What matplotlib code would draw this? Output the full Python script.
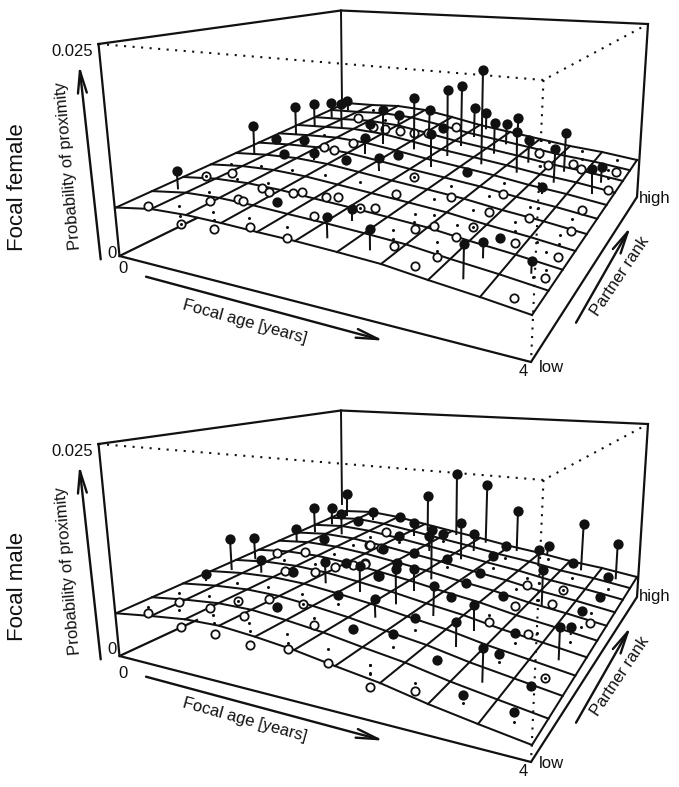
import numpy as np
import matplotlib
matplotlib.use("Agg")
import matplotlib.pyplot as plt

plt.rcParams['font.family'] = ['Liberation Sans', 'DejaVu Sans']

rank_spacing = [0, .157, .292, .413, .522, .621, .71, .79, .865, .934, 1]

female_front_x = [116, 151, 186, 221, 257, 295, 337, 381, 428, 480, 532]
female_front_y = [207.5, 209, 215, 223, 232, 241, 252, 264, 280, 297, 315]
female_back_x = [346, 372, 398, 425, 452, 480, 510, 540, 570, 602, 637]
female_back_y = [103, 105, 106, 110, 117, 125, 132, 139, 146, 152, 160]

female_stem_x = [176.7, 253.3, 295.3, 314, 331.3, 341, 347.3, 314, 365, 378.5, 326.7, 352.3, 369.8, 414.3, 447.7, 462, 483, 474.7,
                 486.3, 494.7, 506.7, 518.3, 517, 529, 555.3, 566, 429.7, 431.3, 399, 382.7, 541.7, 592.3, 601.7, 464, 483.3, 531.7]
female_stem_y = [171, 125.7, 107.3, 103.7, 103.3, 103.7, 101.3, 153, 138.3, 158.3, 217, 209.3, 229, 98.3, 89.7, 86.3, 70, 108,
                 112.7, 122.7, 123.7, 117.7, 131.7, 140, 148.7, 132.7, 110, 134.3, 115.3, 110, 187.3, 169, 166.7, 244, 241.7, 261]
female_base_x = [178, 254.3, 296, 314.7, 331.7, 341.7, 348, 314, 365, 379, 327.3, 352.3, 370, 414, 447.3, 461, 481.3, 474,
                 486, 494, 506, 517.7, 516.7, 528.3, 553.7, 564, 429, 431.3, 398.3, 382.7, 541.7, 592.3, 601, 463.3, 483, 531.3]
female_base_y = [188.3, 153.3, 133.3, 125, 116.7, 126.7, 109.3, 158.5, 152.7, 170, 237.3, 220, 249.3, 148.3, 155, 145, 163.3, 136,
                 128.3, 152.7, 143.3, 131.7, 171.7, 161.7, 181.7, 170.7, 130, 166, 126.7, 142.7, 193, 193.3, 181.7, 278.3, 257.3, 272.7]
female_filled_x = [276.3, 304.3, 283.7, 346, 369.5, 277, 397.7, 443, 466.7, 500]
female_filled_y = [138.7, 140, 153.7, 159.7, 124, 202, 154.7, 127.7, 172.3, 237.7]
female_open_x = [147.7, 206, 232, 210, 180.7, 214, 249.7, 287.3, 237.7, 242.7, 262.3, 269, 293.3, 302.3, 325.7, 337.7, 314, 360,
                 375.3, 324.3, 334.3, 353, 358, 373.3, 385.3, 400, 414, 427.7, 456.3, 539, 547.7, 573.3, 581, 615.7, 607.7, 414.3,
                 396, 450.7, 502.7, 581.7, 488.7, 529, 570.7, 473.3, 433.7, 415, 456, 514.7, 393.7, 437, 415.3, 558.3, 545, 514.3]
female_open_y = [206.3, 176.3, 173, 200.7, 224, 228.7, 226.7, 238.3, 198.7, 201, 188, 192.3, 193.3, 192, 196.7, 197.3, 215.7, 208.3,
                 207.7, 146.7, 150.3, 143.3, 118.3, 127.3, 129.3, 131, 133.3, 133.3, 127.3, 153, 165, 164.3, 169, 172.3, 190, 177,
                 194, 197.3, 193.7, 209.5, 212, 218, 231, 227, 226, 229, 236.7, 243.3, 245.7, 257.3, 266.3, 257.3, 278, 297.7]
female_dot_x = [231.3, 261.3, 292.3, 325.3, 360, 179.3, 213.3, 249, 287, 209, 268.3, 236.7, 373.3, 324, 180, 213.7, 206, 180.7, 360,
                385, 450.7, 434, 489.3, 503.7, 541, 549, 540, 582, 616.7, 581.7, 608.3, 608.3, 530, 537.7, 415, 473.3, 434, 414.3,
                456.7, 393.3, 393.3, 437, 437, 515.3, 515.3, 571.7, 560, 559, 536.7, 546, 546, 533.3, 473.3, 414.3]
female_dot_y = [163.7, 166.3, 170, 175.3, 181.7, 206.3, 211.7, 218.3, 226.7, 192, 182.7, 178.7, 110, 135, 215.7, 220, 176.3, 224, 208.3,
                120, 185.7, 199, 195.7, 183.3, 140, 142.3, 165.7, 150.7, 160, 159.3, 170, 178, 206.7, 208.3, 214, 210, 215, 222.3,
                225, 230, 239, 242.3, 251, 222.3, 230.7, 219.3, 235, 244, 241.7, 252.3, 270, 277.3, 227, 177]

male_front_x = [116, 151, 185, 219, 255, 294, 335, 380, 428, 478, 532]
male_front_y = [613.3, 616, 619.3, 625.7, 636.7, 650, 666, 683, 704, 724, 745]
male_back_x = [346, 372, 398, 425, 452, 480, 510, 540, 570, 602, 637]
male_back_y = [511, 512, 517, 524, 531, 538, 546, 553, 561, 568, 577]

male_stem_x = [230, 254, 296.3, 314, 331.7, 341.3, 347.3, 373.3, 206, 261, 325, 359.7, 374.7, 428, 457, 487.3, 518, 583.7, 617.7,
               548.7, 539, 543, 413.7, 431.7, 429, 461.3, 474.3, 397.3, 395.7, 414.3, 434, 473.7, 456.3, 560, 571, 483.3]
male_stem_y = [538.7, 537.7, 528.7, 508, 508, 514.3, 494, 511.7, 574.3, 560.3, 562.3, 566, 599.3, 496, 473.7, 485, 510.7, 524, 544.3,
               545.7, 549.7, 570, 522.7, 530.3, 536, 522.7, 533.7, 562.7, 569.3, 568.7, 586, 605.3, 621.7, 627, 627.3, 648.3]
male_base_x = [231.7, 255.3, 296.7, 315, 332, 341.7, 347.3, 373.3, 206, 261.3, 325.7, 360, 375.3, 427.7, 456.3, 485.7, 516.7, 581, 615.7,
               547.3, 538.3, 541.7, 413.7, 431.3, 429.3, 461, 473.7, 395.7, 396, 414.3, 433.3, 473.7, 456, 558.7, 570.7, 482.3]
male_base_y = [569, 558.3, 540, 531, 523.3, 533.3, 515, 519.3, 580, 571.7, 582.3, 591, 616.7, 530, 534, 541.7, 550, 569.3, 578.3,
               553, 565, 605, 535, 578.3, 550, 558.3, 550, 569.3, 603.3, 590, 615, 630, 646, 659.3, 634, 681.7]
male_filled_x = [324, 358, 346, 292.7, 378.3, 337.7, 277.3, 353, 400, 443, 505.7, 493.3, 398.7, 382.7, 413.7, 446.7, 379.3, 480.3, 466,
                 450.7, 503, 573.3, 608.3, 600, 582.3, 414.7, 393.3, 515, 499.3, 436.7, 531, 463.3, 513.7]
male_filled_y = [539, 521, 563.3, 572, 576, 595, 607, 629.3, 517.3, 534, 546, 556, 536, 549, 552.7, 559.3, 576, 573.3, 583.3,
                 597.3, 596, 562.7, 576.7, 597, 611, 617.7, 634.3, 633.3, 654.3, 659.7, 685.7, 695.3, 712.3]
male_open_x = [148.3, 179, 210.3, 237.7, 269.3, 243.7, 181, 214.7, 250.3, 287.7, 327.7, 314, 303, 276.7, 305, 284.7, 314.7, 334.7, 353.3,
               365.3, 369.3, 381, 385.7, 369.7, 365, 527, 562.7, 515, 552, 590, 488.7, 528.3, 545, 415.3, 370.3]
male_open_y = [613.3, 602, 607.7, 600.7, 599, 616.3, 626.7, 633.7, 645.3, 649, 662.7, 624.7, 603.7, 552.7, 552, 571.3, 571.7, 567.3, 565.3,
               563.3, 544.7, 548.3, 531.7, 545, 564, 585, 590.3, 605.7, 604, 622.7, 622.3, 633.7, 678, 690.7, 687]
male_dot_x = [147.7, 178.7, 209.3, 236.7, 268.3, 302.3, 179.3, 213.3, 249.3, 250, 213.7, 287.3, 287.7, 327.7, 314, 370.3, 370.3, 370, 353.3,
              334.3, 284, 315, 338.3, 393.3, 415, 370, 370, 415, 489, 462.7, 513.7, 499.3, 515, 570, 590.7, 581, 537.3, 536.7, 398.7,
              443.3, 446.7, 493.3, 505.3, 527.3, 515.7, 539, 548, 572.3, 607.7, 537.7, 562.7, 545, 237.7, 303]
male_dot_y = [607, 593, 595.7, 582.7, 587, 594.3, 610, 614.7, 623, 631.3, 623.3, 634, 642.7, 648.7, 618.3, 665, 673.3, 536.7, 545,
              554.3, 560, 564.3, 604, 646.7, 630, 665, 674, 683.3, 615, 702.7, 722, 661.7, 643.3, 641.7, 613.3, 626.7, 600, 633, 542.3,
              541, 567.3, 567.7, 558.3, 578.3, 589.3, 582.7, 558.7, 578.3, 588.7, 600, 590.3, 678, 600.7, 603.7]


def arrow(ax, start, tip):
    ax.annotate("", xy=tip, xytext=start,
                arrowprops=dict(arrowstyle="->,head_length=1.6,head_width=0.32", lw=1.7, color="#111111",
                                mutation_scale=10, shrinkA=0, shrinkB=0))


def draw_panel(ax, off, name, name_y, lab, front_x, front_y, back_x, back_y,
               stem_x, stem_y, base_x, base_y, filled_x, filled_y, open_x, open_y, dot_x, dot_y):
    k = "#111111"
    dots = (0, (1, 3.1))
    # box
    ax.plot([98.5, 341, 648, 637, 531, 119.5, 98.5],
            [44 + off, 10.5 + off, 24 + off, 197 + off, 362 + off, 256 + off, 44 + off],
            color=k, lw=1.6, solid_joinstyle="miter")
    ax.plot([341, 342], [10.5 + off, 104 + off], color=k, lw=1.4)
    ax.plot([119.5, lab["hit_x"]], [256 + off, lab["hit_y"]], color=k, lw=1.6)
    ax.plot([98.5, 543.5, 648], [44 + off, 80 + off, 24 + off], color=k, lw=1.5, ls=dots)
    ax.plot([543.5, 531], [80 + off, 362 + off], color=k, lw=1.5, ls=dots)
    # surface
    fx, fy, bx, by = map(np.array, (front_x, front_y, back_x, back_y))
    for t in rank_spacing:
        ax.plot(fx + t * (bx - fx), fy + t * (by - fy), color=k, lw=1.45)
    for i in range(len(fx)):
        ax.plot([fx[i], bx[i]], [fy[i], by[i]], color=k, lw=1.45)
    # points
    ax.plot(open_x, open_y, "o", ms=6.0, mfc="white", mec=k, mew=1.3, ls="none", zorder=3)
    ax.plot(dot_x, dot_y, "o", ms=2.2, mfc=k, mew=0, ls="none", zorder=4)
    for i in range(len(stem_x)):
        ax.plot([stem_x[i], base_x[i]], [stem_y[i], base_y[i]], color=k, lw=1.45, zorder=5)
    ax.plot(stem_x, stem_y, "o", ms=7.4, color=k, mew=0, ls="none", zorder=6)
    ax.plot(filled_x, filled_y, "o", ms=7.4, color=k, mew=0, ls="none", zorder=6)
    # arrows
    arrow(ax, (100.7, 259.3 + off), (79.3, 65 + off))
    arrow(ax, (146, 276.7 + off), (384, 340.7 + off))
    arrow(ax, (576, 322.7 + off), (630.7, 226.7 + off))
    # text
    ax.text(18, name_y, name, fontsize=16, rotation=90, ha="center", va="center", color=k)
    ax.text(68, 166 + off + lab["prob_dy"], "Probability of proximity", fontsize=12, rotation=95, ha="center", va="center", color=k,
            rotation_mode="anchor")
    ax.text(245, 321.7 + off - lab["age_dy"], "Focal age [years]", fontsize=12, rotation=-15.5, ha="center", va="center", color=k,
            rotation_mode="anchor")
    ax.text(620, 276.7 + off, "Partner rank", fontsize=12, rotation=56, ha="center", va="center", color=k, rotation_mode="anchor")
    ax.text(72.3, 52 + off, "0.025", fontsize=12, ha="center", va="center", color=k)
    ax.text(111.5, lab["zero_y"], "0", fontsize=12, ha="center", va="center", color=k)
    ax.text(123.3, lab["zero2_y"], "0", fontsize=12, ha="center", va="center", color=k)
    ax.text(523.3, lab["four_y"], "4", fontsize=12, ha="center", va="center", color=k)
    ax.text(551, lab["low_y"], "low", fontsize=12, ha="center", va="center", color=k)
    ax.text(655, lab["high_y"], "high", fontsize=12, ha="center", va="center", color=k)


fig = plt.figure(figsize=(6.79, 7.87), dpi=100)
ax = fig.add_axes([0, 0, 1, 1])
ax.set_xlim(0, 679)
ax.set_ylim(787, 0)
ax.axis("off")

draw_panel(ax, 0, "Focal female", 187,
           dict(hit_x=197, hit_y=218, prob_dy=0, age_dy=0, zero_y=253, zero2_y=268.5, four_y=372, low_y=367.5, high_y=198),
           female_front_x, female_front_y, female_back_x, female_back_y,
           female_stem_x, female_stem_y, female_base_x, female_base_y,
           female_filled_x, female_filled_y, female_open_x, female_open_y, female_dot_x, female_dot_y)
draw_panel(ax, 400, "Focal male", 586,
           dict(hit_x=197, hit_y=620, prob_dy=5, age_dy=1.5, zero_y=649, zero2_y=673.3, four_y=771.5, low_y=763.5, high_y=597),
           male_front_x, male_front_y, male_back_x, male_back_y,
           male_stem_x, male_stem_y, male_base_x, male_base_y,
           male_filled_x, male_filled_y, male_open_x, male_open_y, male_dot_x, male_dot_y)

plt.savefig("out.png", dpi=100)
